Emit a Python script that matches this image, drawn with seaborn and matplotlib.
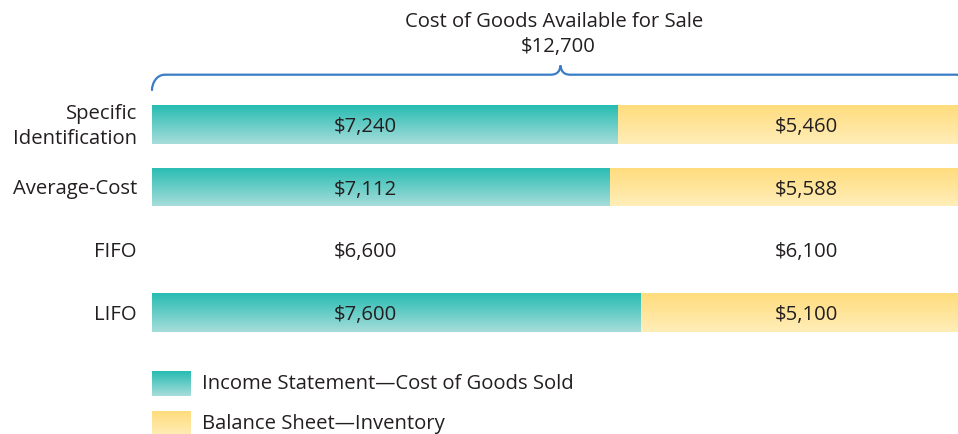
import numpy as np
import pandas as pd
import matplotlib
matplotlib.use("Agg")
import matplotlib.pyplot as plt
from matplotlib.path import Path
from matplotlib.patches import PathPatch
import seaborn as sns

# --- data -------------------------------------------------------------
methods = ["Specific\nIdentification", "Average-Cost", "FIFO", "LIFO"]
cost_of_goods_sold = [7240, 7112, 6600, 7600]
ending_inventory = [5460, 5588, 6100, 5100]
has_bar = [True, True, False, True]
available_for_sale = 12700
legend_labels = ["Income Statement\u2014Cost of Goods Sold",
                 "Balance Sheet\u2014Inventory"]

# --- style ------------------------------------------------------------
sns.set_theme(style="white")
plt.rcParams["font.family"] = ["Open Sans", "DejaVu Sans"]
TEXT = "#231F20"
TEAL_TOP, TEAL_BOT = "#27BCB2", "#A6DDDA"
GOLD_TOP, GOLD_BOT = "#FFDC7C", "#FFEEB9"
BRACE = "#3B7DC4"
FS = 14.6

W, H = 958, 435
fig = plt.figure(figsize=(W / 100, H / 100), dpi=100)

# axes span the full chart height; x axis runs from px 152 to 969
x_left_px, x_span_px = 152, 817
ax = fig.add_axes([x_left_px / W, 0, x_span_px / W, 1])

row0_px, row_step_px = 125.5, 62.67
px_per_x = x_span_px / available_for_sale


def py(y_px):
    """pixel row -> categorical y coordinate"""
    return (y_px - row0_px) / row_step_px


df = pd.DataFrame({
    "method": methods,
    "cogs": cost_of_goods_sold,
    "total": [c + i for c, i in zip(cost_of_goods_sold, ending_inventory)],
    "bar": has_bar,
})
bars_df = df[df["bar"]]

bar_w = 38.5 / row_step_px
sns.barplot(data=bars_df, y="method", x="total", order=methods, orient="y",
            color=GOLD_TOP, width=bar_w, saturation=1, ax=ax, zorder=1)
n_gold = len(ax.patches)
sns.barplot(data=bars_df, y="method", x="cogs", order=methods, orient="y",
            color=TEAL_TOP, width=bar_w, saturation=1, ax=ax, zorder=3)


def gradient(top, bottom, n=64):
    t = np.linspace(0, 1, n)[:, None]
    c0 = np.array(matplotlib.colors.to_rgb(top))
    c1 = np.array(matplotlib.colors.to_rgb(bottom))
    return (c0 * (1 - t) + c1 * t)[:, None, :]


for k, p in enumerate(ax.patches):
    p.set_linewidth(0)
    x0, y0 = p.get_x(), p.get_y()
    x1, y1 = x0 + p.get_width(), y0 + p.get_height()
    top, bot = (GOLD_TOP, GOLD_BOT) if k < n_gold else (TEAL_TOP, TEAL_BOT)
    img = ax.imshow(gradient(top, bot), extent=[x0, x1, y1, y0],
                    aspect="auto", origin="upper", interpolation="bilinear",
                    zorder=p.get_zorder() + 0.5)
    img.set_clip_path(p)

ax.set_xlim(0, available_for_sale)
ax.set_ylim(py(H), py(0))
ax.axis("off")

# value labels
lab_x1 = (365 - x_left_px) / px_per_x
lab_x2 = (806 - x_left_px) / px_per_x
for i, (c, inv) in enumerate(zip(cost_of_goods_sold, ending_inventory)):
    ax.text(lab_x1, i + 1.5 / row_step_px, f"${c:,}", ha="center",
            va="center", fontsize=FS, color=TEXT, zorder=10)
    ax.text(lab_x2, i + 1.5 / row_step_px, f"${inv:,}", ha="center",
            va="center", fontsize=FS, color=TEXT, zorder=10)

# category labels
cat_x = -(x_left_px - 137) / px_per_x
for i, m in enumerate(methods):
    ax.text(cat_x, i + 1.0 / row_step_px, m, ha="right", va="center",
            fontsize=FS, color=TEXT, linespacing=1.32, clip_on=False)

# brace over the full available amount
dx = 1 / px_per_x
dy = 1 / row_step_px
yb = py(75.7)
tip_x = available_for_sale / 2
r = 13
verts = [
    (0, py(91)),
    (0, py(91) - 6 * dy), (4 * dx, yb), (r * dx, yb),
    (tip_x - 10 * dx, yb),
    (tip_x - 3 * dx, yb), (tip_x - 0.5 * dx, py(72)), (tip_x, py(66.5)),
    (tip_x + 0.5 * dx, py(72)), (tip_x + 3 * dx, yb), (tip_x + 10 * dx, yb),
    (available_for_sale - r * dx, yb),
    (available_for_sale - 4 * dx, yb), (available_for_sale, py(91) - 6 * dy),
    (available_for_sale, py(91)),
]
codes = [Path.MOVETO, Path.CURVE4, Path.CURVE4, Path.CURVE4, Path.LINETO,
         Path.CURVE4, Path.CURVE4, Path.CURVE4,
         Path.CURVE4, Path.CURVE4, Path.CURVE4, Path.LINETO,
         Path.CURVE4, Path.CURVE4, Path.CURVE4]
ax.add_patch(PathPatch(Path(verts, codes), facecolor="none", edgecolor=BRACE,
                       linewidth=1.6, capstyle="round", clip_on=False))

ax.text(tip_x - 6 * dx, py(22), "Cost of Goods Available for Sale",
        ha="center", va="center", fontsize=FS, color=TEXT)
ax.text(tip_x - 2 * dx, py(47), f"${available_for_sale:,}",
        ha="center", va="center", fontsize=FS, color=TEXT)

# legend
leg_items = [(372, TEAL_TOP, TEAL_BOT), (412, GOLD_TOP, GOLD_BOT)]
for (top_px, c0, c1), label in zip(leg_items, legend_labels):
    fx0, fw = 152 / W, 38 / W
    fy1 = 1 - top_px / H
    fh = 25 / H
    lax = fig.add_axes([fx0, fy1 - fh, fw, fh])
    lax.imshow(gradient(c0, c1), aspect="auto", extent=[0, 1, 0, 1],
               interpolation="bilinear")
    lax.axis("off")
    fig.text(202 / W, fy1 - fh / 2, label, ha="left", va="center",
             fontsize=FS, color=TEXT)

fig.savefig("out.png", dpi=100)
